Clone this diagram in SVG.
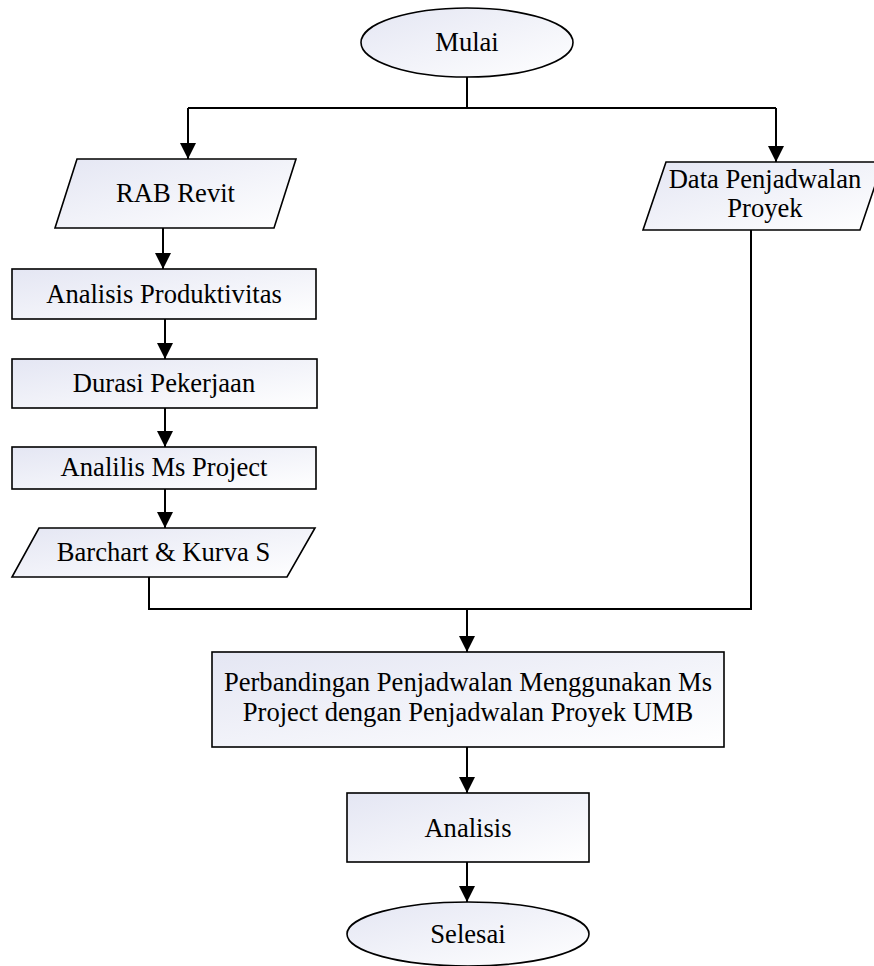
<svg xmlns="http://www.w3.org/2000/svg" width="874" height="966" viewBox="0 0 874 966">
<style>
.shape{fill:url(#g);stroke:#000;stroke-width:1.6}
.conn{fill:none;stroke:#000;stroke-width:2}
.arr{marker-end:url(#ah)}
text{font-family:"Liberation Serif","Times New Roman",serif;font-size:26.6px;fill:#000;text-anchor:middle}
</style>
<defs>
<linearGradient id="g" x1="0" y1="0" x2="1" y2="1">
<stop offset="0" stop-color="#e4e6f3"/>
<stop offset="1" stop-color="#ffffff"/>
</linearGradient>
<marker id="ah" markerUnits="userSpaceOnUse" markerWidth="16" markerHeight="16" refX="16" refY="8" orient="auto">
<path d="M0,0 L16,8 L0,16 z" fill="#000"/>
</marker>
</defs>
<g id="connectors">
<path class="conn" d="M467,77 V108"/>
<path class="conn" d="M188,108 H776"/>
<path class="conn arr" d="M188,108 V159"/>
<path class="conn arr" d="M776,108 V162"/>
<path class="conn arr" d="M163,228 V269"/>
<path class="conn arr" d="M165,319 V359"/>
<path class="conn arr" d="M165,408 V447"/>
<path class="conn arr" d="M165,489 V528"/>
<path class="conn" d="M149,577 V609 H751 V230"/>
<path class="conn arr" d="M467,609 V652"/>
<path class="conn arr" d="M467,747 V793"/>
<path class="conn arr" d="M467,862 V902"/>
</g>
<g id="mulai">
<ellipse class="shape" cx="467" cy="42.5" rx="106" ry="34.5"/>
<text x="467" y="51">Mulai</text>
</g>
<g id="rab-revit">
<polygon class="shape" points="77,159 296,159 274,228 55,228"/>
<text x="175.5" y="202">RAB Revit</text>
</g>
<g id="data-penjadwalan">
<polygon class="shape" points="666,162 883,162 860,230 643,230"/>
<text x="765" y="188">Data Penjadwalan</text>
<text x="765" y="217">Proyek</text>
</g>
<g id="analisis-produktivitas">
<rect class="shape" x="12" y="269" width="304" height="50"/>
<text x="164" y="303">Analisis Produktivitas</text>
</g>
<g id="durasi-pekerjaan">
<rect class="shape" x="12" y="359" width="305" height="49"/>
<text x="164" y="392">Durasi Pekerjaan</text>
</g>
<g id="analilis-ms-project">
<rect class="shape" x="12" y="447" width="304" height="42"/>
<text x="164" y="476">Analilis Ms Project</text>
</g>
<g id="barchart">
<polygon class="shape" points="39,528 315,528 287,577 12,577"/>
<text x="163.5" y="561">Barchart &amp; Kurva S</text>
</g>
<g id="perbandingan">
<rect class="shape" x="212" y="652" width="512" height="95"/>
<text x="468" y="691">Perbandingan Penjadwalan Menggunakan Ms</text>
<text x="468" y="721">Project dengan Penjadwalan Proyek UMB</text>
</g>
<g id="analisis">
<rect class="shape" x="347" y="793" width="242" height="69"/>
<text x="468" y="837">Analisis</text>
</g>
<g id="selesai">
<ellipse class="shape" cx="468" cy="934" rx="121" ry="32"/>
<text x="468" y="943">Selesai</text>
</g>
</svg>
